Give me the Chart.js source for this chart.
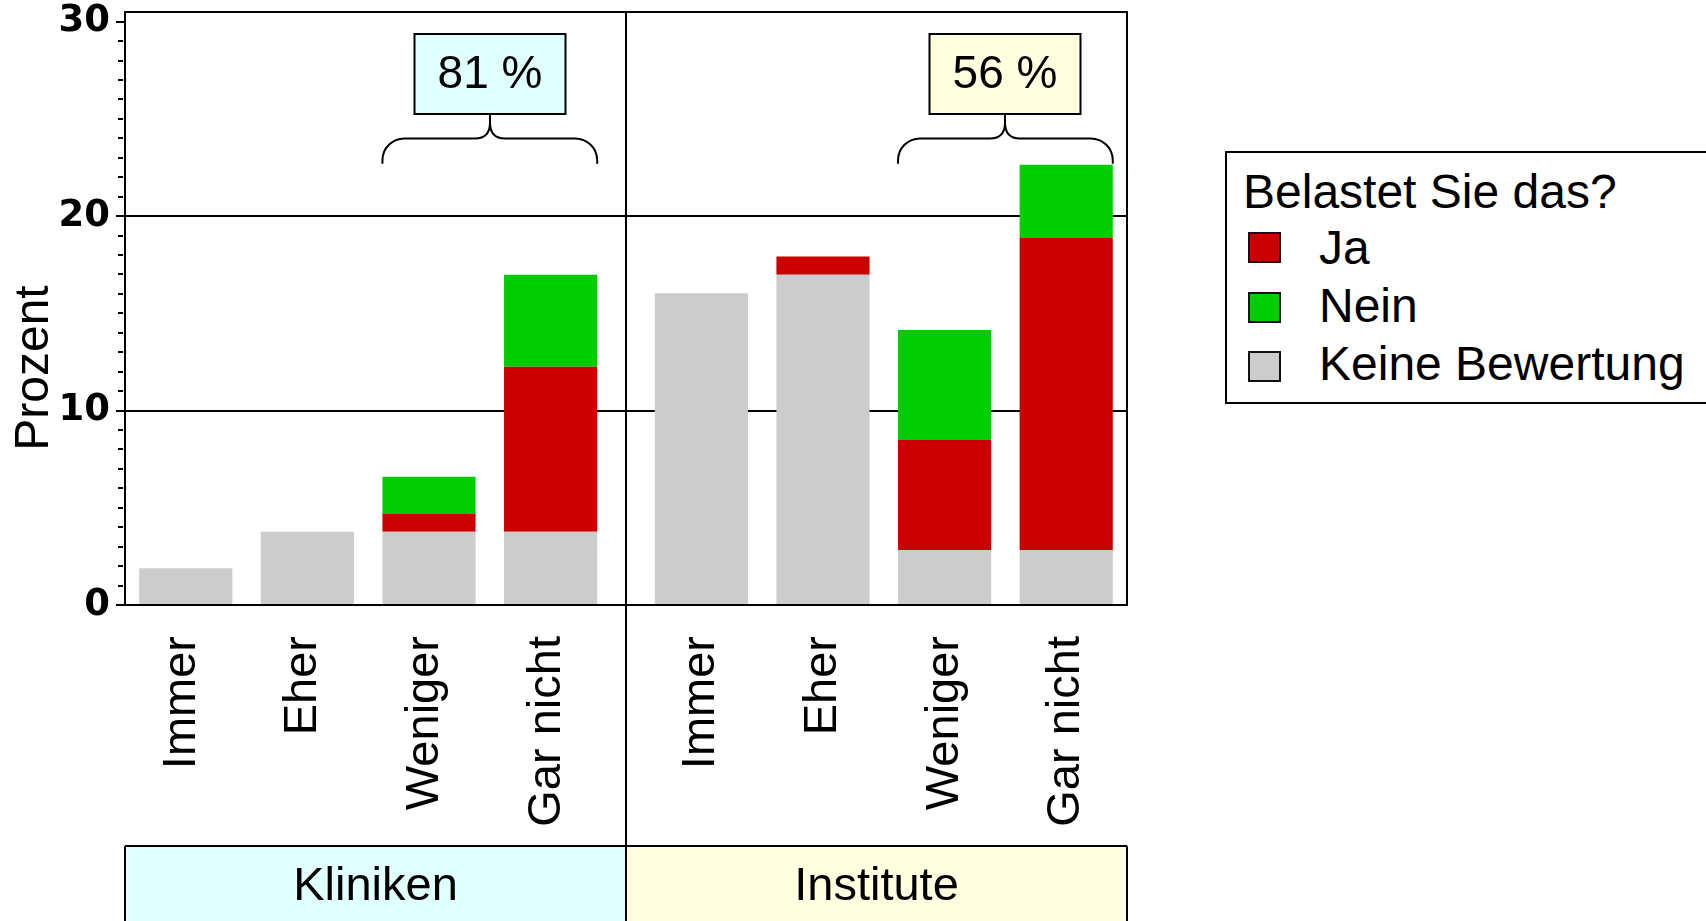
<!DOCTYPE html>
<html>
<head>
<meta charset="utf-8">
<script src="https://cdn.jsdelivr.net/npm/chart.js@4.4.0/dist/chart.umd.min.js"></script>
<style>
  html, body { margin: 0; padding: 0; background: #fff; }
  #page { position: relative; width: 1706px; height: 921px; overflow: hidden; font-family: "Liberation Sans", Arial, sans-serif; }
  #chart { position: absolute; left: 0; top: 0; }
  #legend { position: absolute; left: 1225px; top: 151px; width: 620px; height: 253px; border: 2px solid #000; box-sizing: border-box; background: #fff; }
  #legend .title, #legend .item { position: absolute; font-size: 48px; line-height: 48px; white-space: nowrap; color: #000; }
  #legend .title { left: 16px; top: 15px; }
  #legend .item { left: 92px; }
  #legend .sw { position: absolute; left: 21px; width: 33px; height: 31px; box-sizing: border-box; border: 2px solid #111; }
</style>
</head>
<body>
<div id="page">
  <canvas id="chart" width="1706" height="921"></canvas>
  <div id="legend"></div>
</div>
<script>
'use strict';

const categories = ['Immer', 'Eher', 'Weniger', 'Gar nicht'];
const panelNames = ['Kliniken', 'Institute'];
const seriesNames = ['Ja', 'Nein', 'Keine Bewertung'];
const legendTitle = 'Belastet Sie das?';
const shareLabels = ['81 %', '56 %'];
const yTicks = [0, 10, 20, 30];

// Prozent je Antwort
const klinikenJa = [0, 0, 0.94, 8.49];
const klinikenNein = [0, 0, 1.89, 4.72];
const klinikenKeine = [1.89, 3.77, 3.77, 3.77];
const instituteJa = [0, 0.94, 5.66, 16.04];
const instituteNein = [0, 0, 5.66, 3.77];
const instituteKeine = [16.04, 16.98, 2.83, 2.83];

const colJa = '#cc0000';
const colNein = '#00cc00';
const colKeine = '#cccccc';
const fillKliniken = '#e0ffff';
const fillInstitute = '#ffffe0';
const seriesColors = [colJa, colNein, colKeine];

const fontFamily = '"Liberation Sans", Arial, sans-serif';
Chart.defaults.color = '#000';
Chart.defaults.font.family = fontFamily;

// legend (html)
let legendElem = document.getElementById('legend');
let t = document.createElement('div');
t.className = 'title';
t.textContent = legendTitle;
legendElem.appendChild(t);
for (let i = 0; i < seriesNames.length; i++) {
  let sw = document.createElement('div');
  sw.className = 'sw';
  sw.style.top = (79 + 59.5 * i) + 'px';
  sw.style.background = seriesColors[i];
  legendElem.appendChild(sw);
  let it = document.createElement('div');
  it.className = 'item';
  it.style.top = (71 + 58 * i) + 'px';
  it.textContent = seriesNames[i];
  legendElem.appendChild(it);
}

function barSet(label, data, color, axis) {
  return {
    label: label,
    data: data,
    backgroundColor: color,
    borderWidth: 0,
    xAxisID: axis,
    yAxisID: 'y',
    grouped: false,
    barPercentage: 0.766,
    categoryPercentage: 1
  };
}

function noPad(scale) {
  scale.paddingTop = 0;
  scale.paddingBottom = 0;
  scale.paddingLeft = 0;
  scale.paddingRight = 0;
}

function panelAxis(weight, shift) {
  return {
    type: 'category',
    position: 'bottom',
    stack: 'panels',
    stackWeight: 4,
    weight: weight,
    stacked: true,
    offset: true,
    grid: { display: false, drawTicks: false },
    border: { display: false },
    ticks: {
      autoSkip: false,
      minRotation: 90,
      maxRotation: 90,
      padding: 31,
      labelOffset: shift,
      color: '#000',
      font: { family: fontFamily, size: 47 }
    },
    afterFit: function (scale) { scale.height = 316; noPad(scale); }
  };
}

const panels = [
  { meta: 0, name: panelNames[0], share: shareLabels[0], fill: fillKliniken },
  { meta: 3, name: panelNames[1], share: shareLabels[1], fill: fillInstitute }
];
const braceFrom = categories.indexOf('Weniger');
const braceTo = categories.indexOf('Gar nicht');

const decor = {
  id: 'decor',
  afterDraw(chart) {
    const ctx = chart.ctx;
    const a = chart.chartArea;
    const y = chart.scales.y;
    const gap = chart.scales.xGap;
    const mid = Math.round((gap.left + gap.right) / 2);
    ctx.save();
    ctx.strokeStyle = '#000';
    ctx.fillStyle = '#000';
    ctx.lineWidth = 2;

    // minor ticks
    ctx.beginPath();
    for (let v = 1; v < 30; v++) {
      if (v % 10 === 0) continue;
      const py = Math.round(y.getPixelForValue(v));
      ctx.moveTo(a.left - 7, py);
      ctx.lineTo(a.left - 2, py);
    }
    ctx.stroke();

    // strip at the bottom
    const stripTop = 846;
    ctx.fillStyle = panels[0].fill;
    ctx.fillRect(a.left, stripTop, mid - a.left, chart.height - stripTop);
    ctx.fillStyle = panels[1].fill;
    ctx.fillRect(mid, stripTop, a.right - mid, chart.height - stripTop);
    ctx.beginPath();
    ctx.moveTo(a.left, stripTop); ctx.lineTo(a.right, stripTop);
    ctx.moveTo(a.left, stripTop); ctx.lineTo(a.left, chart.height);
    ctx.moveTo(a.right, stripTop); ctx.lineTo(a.right, chart.height);
    ctx.stroke();
    ctx.fillStyle = '#000';
    ctx.font = '47px ' + fontFamily;
    ctx.textAlign = 'center';
    ctx.textBaseline = 'middle';
    ctx.fillText(panels[0].name, (a.left + mid) / 2, 887);
    ctx.fillText(panels[1].name, (mid + a.right) / 2, 887);

    // frame + divider
    ctx.strokeRect(a.left, a.top, a.right - a.left, a.bottom - a.top);
    ctx.beginPath();
    ctx.moveTo(mid, a.top);
    ctx.lineTo(mid, chart.height);
    ctx.stroke();

    // y title
    ctx.save();
    ctx.font = '48px ' + fontFamily;
    ctx.translate(35, 368);
    ctx.rotate(-Math.PI / 2);
    ctx.fillText('Prozent', 0, 0);
    ctx.restore();

    // boxes and braces
    for (const p of panels) {
      const meta = chart.getDatasetMeta(p.meta);
      const b1 = meta.data[braceFrom];
      const b2 = meta.data[braceTo];
      const xc = Math.round((b1.x + b2.x) / 2);
      const top = Math.round(y.getPixelForValue(29.35));
      const bottom = Math.round(y.getPixelForValue(25.25));
      const w = 151;
      ctx.fillStyle = p.fill;
      ctx.fillRect(xc - w / 2, top, w, bottom - top);
      ctx.strokeRect(xc - w / 2, top, w, bottom - top);
      ctx.fillStyle = '#000';
      ctx.font = '46px ' + fontFamily;
      ctx.fillText(p.share, xc, (top + bottom) / 2 + 1);

      const x0 = b1.x - b1.width / 2;
      const x1 = b2.x + b2.width / 2;
      const yFlat = y.getPixelForValue(24);
      const yEnd = y.getPixelForValue(22.7);
      const r = Math.min(22, yEnd - yFlat);
      ctx.beginPath();
      ctx.moveTo(x0, yEnd);
      ctx.arcTo(x0, yFlat, x0 + r, yFlat, r);
      ctx.lineTo(xc - 15, yFlat);
      ctx.bezierCurveTo(xc - 4, yFlat, xc, yFlat - 6, xc, yFlat - 16);
      ctx.lineTo(xc, bottom);
      ctx.moveTo(x1, yEnd);
      ctx.arcTo(x1, yFlat, x1 - r, yFlat, r);
      ctx.lineTo(xc + 15, yFlat);
      ctx.bezierCurveTo(xc + 4, yFlat, xc, yFlat - 6, xc, yFlat - 16);
      ctx.stroke();
    }
    ctx.restore();
  }
};

const ctx = document.getElementById('chart');

let config = {
  type: 'bar',
  data: {
    labels: categories,
    datasets: [
      barSet(seriesNames[2], klinikenKeine, colKeine, 'xK'),
      barSet(seriesNames[0], klinikenJa, colJa, 'xK'),
      barSet(seriesNames[1], klinikenNein, colNein, 'xK'),
      barSet(seriesNames[2], instituteKeine, colKeine, 'xI'),
      barSet(seriesNames[0], instituteJa, colJa, 'xI'),
      barSet(seriesNames[1], instituteNein, colNein, 'xI')
    ]
  },
  options: {
    responsive: false,
    animation: false,
    events: [],
    layout: { padding: { left: 0, top: 12, right: 579, bottom: 0 } },
    plugins: {
      legend: { display: false },
      tooltip: { enabled: false }
    },
    scales: {
      y: {
        type: 'linear',
        position: 'left',
        stacked: true,
        min: 0,
        max: 30.5,
        bounds: 'data',
        border: { display: false },
        grid: {
          color: c => (c.tick && (c.tick.value === 10 || c.tick.value === 20)) ? '#000' : 'rgba(0,0,0,0)',
          lineWidth: 2,
          tickColor: c => (c.tick && yTicks.includes(c.tick.value)) ? '#000' : 'rgba(0,0,0,0)',
          tickLength: 9,
          tickWidth: 2
        },
        ticks: {
          stepSize: 1,
          includeBounds: false,
          autoSkip: false,
          padding: 6,
          color: '#000',
          font: { family: '"DejaVu Sans"', weight: 'bold', size: 37 },
          callback: v => yTicks.includes(v) ? String(v) : ''
        },
        afterFit: function (scale) { scale.width = 125; noPad(scale); }
      },
      xK: panelAxis(0, -4),
      xGap: {
        type: 'category',
        position: 'bottom',
        labels: [''],
        stack: 'panels',
        stackWeight: 0.24,
        weight: 1,
        grid: { display: false, drawTicks: false },
        border: { display: false },
        ticks: { display: false },
        afterFit: function (scale) { scale.height = 316; noPad(scale); }
      },
      xI: panelAxis(2, 0)
    }
  },
  plugins: [decor]
};

new Chart(ctx, config);
</script>
</body>
</html>
